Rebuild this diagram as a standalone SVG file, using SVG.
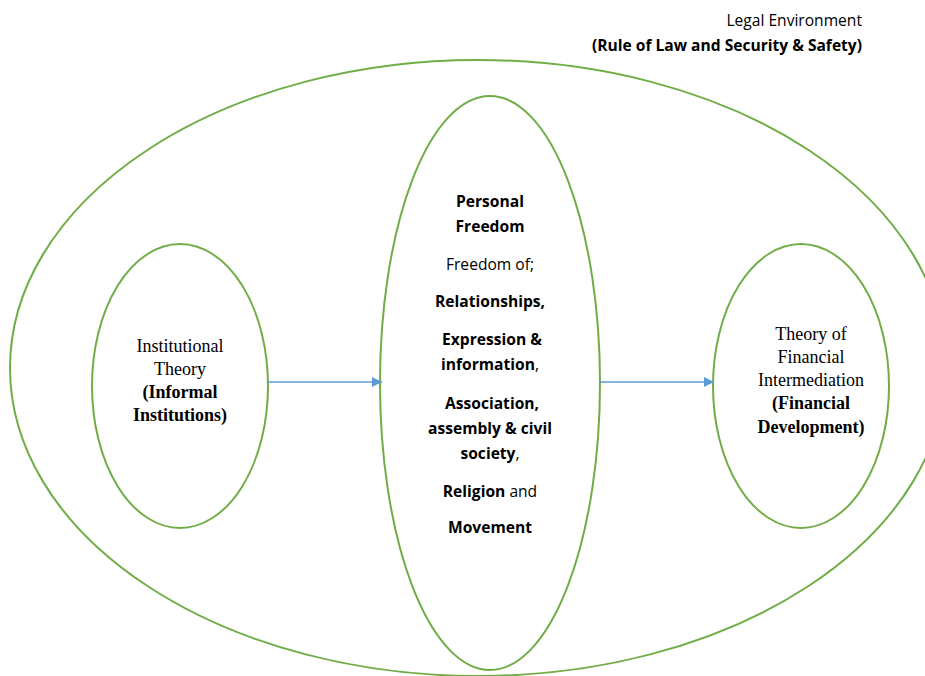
<svg xmlns="http://www.w3.org/2000/svg" width="925" height="676" viewBox="0 0 925 676">
<style>
.el{fill:none;stroke:#70AD47;stroke-width:2}
.cal{font-family:"Open Sans","Liberation Sans",sans-serif;font-size:15.6px;fill:#000}
.tnr{font-family:"Liberation Serif",serif;font-size:18px;fill:#000}
.b{font-weight:bold}
.c{text-anchor:middle}
.con{stroke:#5B9BD5;stroke-width:1.3;fill:none}
</style>
<defs>
<marker id="ah" viewBox="0 0 10 10" refX="10" refY="5" markerWidth="10" markerHeight="10" markerUnits="userSpaceOnUse" orient="auto">
<path d="M0,0 L10,5 L0,10 z" fill="#5B9BD5"/>
</marker>
</defs>
<rect width="925" height="676" fill="#fff"/>
<g id="legal">
<ellipse class="el" cx="478" cy="368" rx="468" ry="308"/>
<text class="cal" x="862" y="26" text-anchor="end" font-size="16.5">Legal Environment</text>
<text class="cal b" x="862" y="51" text-anchor="end" textLength="270" lengthAdjust="spacingAndGlyphs">(Rule of Law and Security &amp; Safety)</text>
</g>
<g id="freedom">
<ellipse class="el" cx="490" cy="383" rx="110" ry="287"/>
<text class="cal c b" x="490" y="207">Personal</text>
<text class="cal c b" x="490" y="232">Freedom</text>
<text class="cal c" x="490" y="270">Freedom of;</text>
<text class="cal c b" x="490" y="307">Relationships,</text>
<text class="cal c b" x="492" y="345">Expression &amp;</text>
<text class="cal c" x="490" y="370"><tspan class="b">information</tspan>,</text>
<text class="cal c b" x="492" y="409">Association,</text>
<text class="cal c b" x="490" y="434">assembly &amp; civil</text>
<text class="cal c" x="490" y="459"><tspan class="b">society</tspan>,</text>
<text class="cal c" x="490" y="497"><tspan class="b">Religion</tspan> and</text>
<text class="cal c b" x="490" y="533">Movement</text>
</g>
<g id="institutional">
<ellipse class="el" cx="180" cy="386" rx="88" ry="142"/>
<text class="tnr c" x="180" y="352">Institutional</text>
<text class="tnr c" x="180" y="375">Theory</text>
<text class="tnr c b" x="180" y="398">(Informal</text>
<text class="tnr c b" x="180" y="421">Institutions)</text>
</g>
<g id="financial">
<ellipse class="el" cx="801" cy="386" rx="88" ry="142"/>
<text class="tnr c" x="811" y="340">Theory of</text>
<text class="tnr c" x="811" y="363">Financial</text>
<text class="tnr c" x="811" y="386">Intermediation</text>
<text class="tnr c b" x="811" y="409">(Financial</text>
<text class="tnr c b" x="811" y="433">Development)</text>
</g>
<g id="connectors">
<line class="con" x1="268" y1="382" x2="382" y2="382" marker-end="url(#ah)"/>
<line class="con" x1="600" y1="382" x2="714" y2="382" marker-end="url(#ah)"/>
</g>
</svg>
